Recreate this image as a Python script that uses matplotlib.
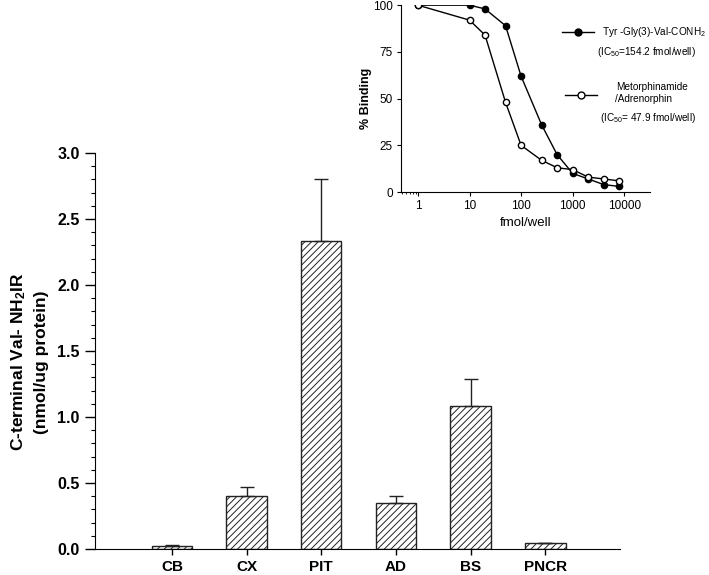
import matplotlib
matplotlib.use("Agg")
import matplotlib.pyplot as plt
from matplotlib.lines import Line2D
from matplotlib.ticker import FixedLocator, NullFormatter

plt.rcParams['font.family'] = ['Liberation Sans', 'DejaVu Sans']
plt.rcParams['mathtext.fontset'] = 'custom'
plt.rcParams['mathtext.rm'] = 'Liberation Sans'
plt.rcParams['mathtext.bf'] = 'Liberation Sans:bold'
plt.rcParams['mathtext.it'] = 'Liberation Sans:italic'
plt.rcParams['hatch.linewidth'] = 0.7

# 主图数据
tissues = ['CB', 'CX', 'PIT', 'AD', 'BS', 'PNCR']
levels = [0.025, 0.40, 2.33, 0.35, 1.08, 0.045]
errors = [0.005, 0.07, 0.47, 0.05, 0.21, 0.0]

# 插图数据（竞争结合曲线）
dose = [1, 10, 20, 50, 100, 250, 500, 1000, 2000, 4000, 8000]
binding_tyr = [100, 100, 98, 89, 62, 36, 20, 10, 7, 4, 3]
binding_met = [100, 92, 84, 48, 25, 17, 13, 12, 8, 7, 6]

fig = plt.figure(figsize=(7.09, 5.75), dpi=100)

# ---- 柱状图 ----
ax = fig.add_axes([0.134, 0.0452, 0.7405, 0.6888])
xs = list(range(len(tissues)))
ax.bar(xs, levels, width=0.54, color='white', edgecolor='#222222',
       linewidth=1.0, hatch='/////', zorder=2)
ax.errorbar(xs, levels, yerr=[[0] * len(errors), errors], fmt='none',
            ecolor='#222222', elinewidth=1.0, capsize=5, capthick=1.0, zorder=3)
ax.set_xlim(-1.03, 6.0)
ax.set_ylim(0, 3.0)
ax.set_xticks(xs)
ax.set_xticklabels(tissues, fontsize=11, fontweight='bold')
ax.set_yticks([0, 0.5, 1.0, 1.5, 2.0, 2.5, 3.0])
ax.set_yticklabels(['0.0', '0.5', '1.0', '1.5', '2.0', '2.5', '3.0'],
                   fontsize=11.5, fontweight='bold')
ax.yaxis.set_minor_locator(FixedLocator([i / 10 for i in range(31)]))
ax.tick_params(axis='y', which='major', length=7, width=1, direction='out', pad=4)
ax.tick_params(axis='y', which='minor', length=3, width=0.8, direction='out')
ax.tick_params(axis='x', length=4, width=1, direction='out', pad=4)
ax.spines['top'].set_visible(False)
ax.spines['right'].set_visible(False)
ax.set_ylabel('C-terminal Val- NH$_\\mathbf{2}$IR\n(nmol/ug protein)',
              fontsize=12.5, fontweight='bold', linespacing=1.5)
ax.yaxis.set_label_coords(-0.088, 0.472)

# ---- 插图 ----
ins = fig.add_axes([0.5656, 0.666, 0.3512, 0.325])
ins.plot(dose, binding_tyr, '-o', color='black', markersize=4.5,
         markerfacecolor='black', linewidth=1.0, zorder=3)
ins.plot(dose, binding_met, '-o', color='black', markersize=4.5,
         markerfacecolor='white', linewidth=1.0, zorder=4)
ins.set_xscale('log')
ins.set_xlim(0.47, 31600)
ins.set_ylim(0, 100)
ins.set_xticks([1, 10, 100, 1000, 10000])
ins.set_xticklabels(['1', '10', '100', '1000', '10000'], fontsize=8.5)
ins.xaxis.set_minor_locator(FixedLocator([0.5, 0.6, 0.7, 0.8, 0.9]))
ins.xaxis.set_minor_formatter(NullFormatter())
ins.set_yticks([0, 25, 50, 75, 100])
ins.set_yticklabels(['0', '25', '50', '75', '100'], fontsize=8.5)
ins.tick_params(which='major', length=3, width=0.8, pad=3)
ins.tick_params(which='minor', length=1.5, width=0.6)
ins.spines['top'].set_visible(False)
ins.spines['right'].set_visible(False)
ins.set_xlabel('fmol/well', fontsize=9.5, labelpad=3)
ins.set_ylabel('% Binding', fontsize=9, fontweight='bold')
ins.yaxis.set_label_coords(-0.116, 0.5)

# 图例（手动绘制）
W, H = 709.0, 575.0
fig.add_artist(Line2D([562 / W, 594 / W], [1 - 32 / H, 1 - 32 / H], color='black',
                      linewidth=1.0, transform=fig.transFigure))
fig.add_artist(Line2D([578 / W], [1 - 32 / H], color='black', marker='o',
                      markersize=5, markerfacecolor='black', transform=fig.transFigure))
fig.text(602 / W, 1 - 32 / H, 'Tyr -Gly(3)-Val-CONH$_2$', fontsize=7.2, va='center')
fig.text(597 / W, 1 - 52 / H, '(IC$_{50}$=154.2 fmol/well)', fontsize=7.2, va='center')

fig.add_artist(Line2D([565 / W, 597 / W], [1 - 95 / H, 1 - 95 / H], color='black',
                      linewidth=1.0, transform=fig.transFigure))
fig.add_artist(Line2D([581 / W], [1 - 95 / H], color='black', marker='o',
                      markersize=5, markerfacecolor='white', transform=fig.transFigure))
fig.text(616 / W, 1 - 87 / H, 'Metorphinamide', fontsize=7.2, va='center')
fig.text(615 / W, 1 - 99 / H, '/Adrenorphin', fontsize=7.2, va='center')
fig.text(600 / W, 1 - 118 / H, '(IC$_{50}$= 47.9 fmol/well)', fontsize=7.2, va='center')

fig.savefig('out.png', dpi=100)
